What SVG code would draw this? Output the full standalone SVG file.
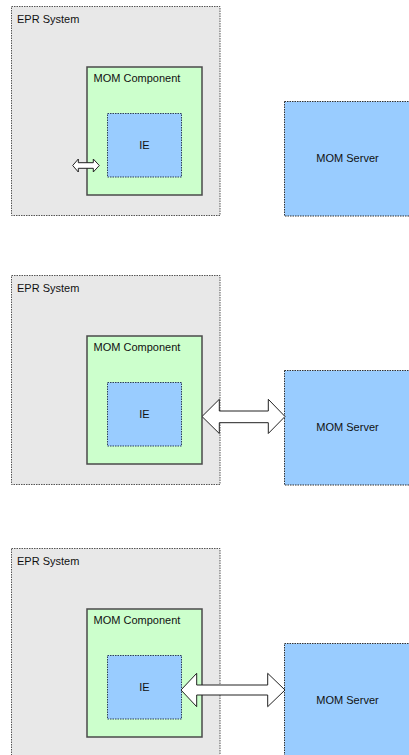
<svg xmlns="http://www.w3.org/2000/svg" width="409" height="755" viewBox="0 0 409 755">
<style>
.epr{fill:#e8e8e8;stroke:#555;stroke-width:1;stroke-dasharray:1.5 1}
.mom{fill:#ccffcc;stroke:#4a4a4a;stroke-width:1.5}
.ie{fill:#99ccff;stroke:#2f3f5f;stroke-width:1;stroke-dasharray:1.5 1}
.srv{fill:#99ccff;stroke:#333;stroke-width:1;stroke-dasharray:1.5 1}
.arr{fill:#fff;stroke:#222;stroke-width:1;stroke-linejoin:miter}
text{font-family:"Liberation Sans",Arial,sans-serif;font-size:11px;fill:#111}
</style>
<rect width="409" height="755" fill="#fff"/>
<g id="panel1">
  <g id="epr1"><rect class="epr" x="11.5" y="6.5" width="208.5" height="209"/><text x="17" y="23">EPR System</text></g>
  <g id="mom1"><rect class="mom" x="87" y="67" width="115" height="128"/><text x="93.5" y="82">MOM Component</text></g>
  <g id="ie1"><rect class="ie" x="107.5" y="113.5" width="74" height="63.5"/><text x="144.5" y="148.5" text-anchor="middle">IE</text></g>
  <g id="srv1"><rect class="srv" x="284.5" y="101.5" width="130" height="114.5"/><text x="347.5" y="162" text-anchor="middle">MOM Server</text></g>
</g>
<g id="panel2" transform="translate(0,269)">
  <g id="epr2"><rect class="epr" x="11.5" y="6.5" width="208.5" height="209"/><text x="17" y="23">EPR System</text></g>
  <g id="mom2"><rect class="mom" x="87" y="67" width="115" height="128"/><text x="93.5" y="82">MOM Component</text></g>
  <g id="ie2"><rect class="ie" x="107.5" y="113.5" width="74" height="63.5"/><text x="144.5" y="148.5" text-anchor="middle">IE</text></g>
  <g id="srv2"><rect class="srv" x="284.5" y="101.5" width="130" height="114.5"/><text x="347.5" y="162" text-anchor="middle">MOM Server</text></g>
</g>
<g id="panel3" transform="translate(0,542)">
  <g id="epr3"><rect class="epr" x="11.5" y="6.5" width="208.5" height="220"/><text x="17" y="23">EPR System</text></g>
  <g id="mom3"><rect class="mom" x="87" y="67" width="115" height="128"/><text x="93.5" y="82">MOM Component</text></g>
  <g id="ie3"><rect class="ie" x="107.5" y="113.5" width="74" height="63.5"/><text x="144.5" y="148.5" text-anchor="middle">IE</text></g>
  <g id="srv3"><rect class="srv" x="284.5" y="101.5" width="130" height="120"/><text x="347.5" y="162" text-anchor="middle">MOM Server</text></g>
</g>
<g id="connectors">
  <polygon class="arr" points="72.7,165.5 78.3,159 78.3,162.7 93.3,162.7 93.3,159 99.3,165.5 93.3,172 93.3,168.3 78.3,168.3 78.3,172"/>
  <polygon class="arr" points="202,416.5 219.3,399.3 219.3,411 268.3,411 268.3,399.3 285,416.5 268.3,433.5 268.3,422.7 219.3,422.7 219.3,433.5"/>
  <polygon class="arr" points="181,690 196.7,673.3 196.7,685 267.7,685 267.7,673.3 285,690 267.7,706.7 267.7,695 196.7,695 196.7,706.7"/>
</g>
</svg>
